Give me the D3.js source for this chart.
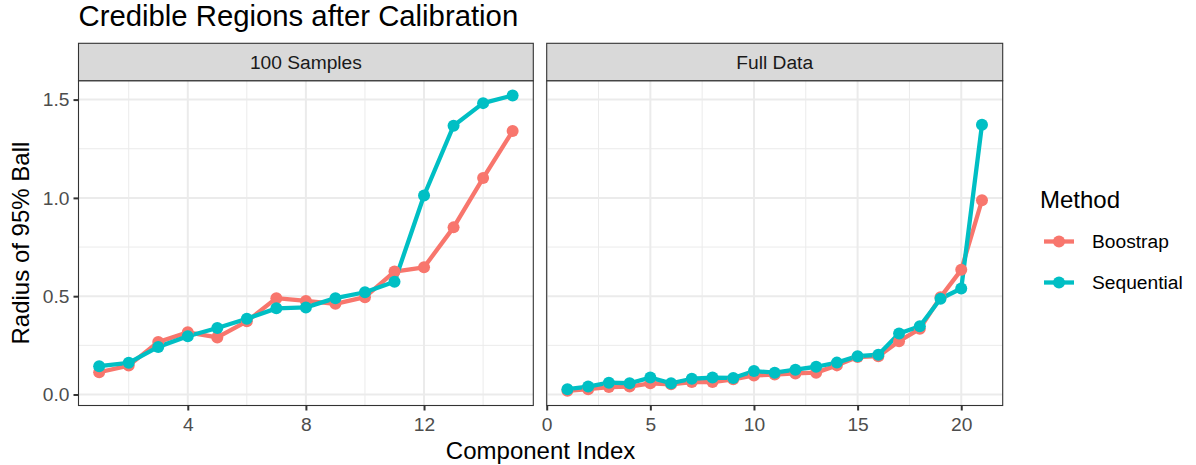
<!DOCTYPE html>
<html>
<head>
<meta charset="utf-8">
<script src="https://cdn.jsdelivr.net/npm/d3@7"></script>
<style>
  body { margin: 0; background: #fff; }
  svg { font-family: "Liberation Sans", Arial, sans-serif; }
</style>
</head>
<body>
<div id="chart"></div>
<script>
var WIDTH = 1196;
var HEIGHT = 465;

var methods = ["Boostrap", "Sequential"];
var methodColors = ["#F8766D", "#00BFC4"];
var panels = ["100 Samples", "Full Data"];

// 100 Samples panel, components 1..15
var samplesIndex = [1, 2, 3, 4, 5, 6, 7, 8, 9, 10, 11, 12, 13, 14, 15];
var samplesBoostrap = [0.113, 0.147, 0.267, 0.316, 0.290, 0.372, 0.490, 0.476,
  0.461, 0.495, 0.625, 0.647, 0.850, 1.101, 1.340];
var samplesSequential = [0.144, 0.161, 0.242, 0.296, 0.338, 0.385, 0.438, 0.443,
  0.490, 0.520, 0.573, 1.012, 1.367, 1.482, 1.521];

// Full Data panel, components 1..21
var fullIndex = [1, 2, 3, 4, 5, 6, 7, 8, 9, 10, 11, 12, 13, 14, 15, 16, 17, 18,
  19, 20, 21];
var fullBoostrap = [0.019, 0.027, 0.038, 0.040, 0.057, 0.052, 0.063, 0.063,
  0.077, 0.097, 0.101, 0.107, 0.111, 0.148, 0.190, 0.195, 0.271, 0.334, 0.495,
  0.634, 0.988];
var fullSequential = [0.027, 0.040, 0.060, 0.057, 0.086, 0.057, 0.080, 0.086,
  0.084, 0.119, 0.111, 0.126, 0.141, 0.162, 0.195, 0.202, 0.310, 0.347, 0.487,
  0.539, 1.372];

var yTicks = [0, 0.5, 1.0, 1.5];
var yMinor = [0.25, 0.75, 1.25];
var samplesTicks = [4, 8, 12];
var samplesMinor = [2, 6, 10, 14];
var fullTicks = [0, 5, 10, 15, 20];
var fullMinor = [2.5, 7.5, 12.5, 17.5];

var STRIP_TOP = 43.3;
var PANEL_TOP = 80.7;
var PANEL_BOTTOM = 405.5;
var GRID = "#EBEBEB";
var DARK = "#333333";
var TEXT = "#4D4D4D";
var BASE_FONT = 24;
var SMALL_FONT = 19.2;

var svg = d3.select("#chart").append("svg")
  .attr("width", WIDTH)
  .attr("height", HEIGHT);

// shared y scale with ggplot style 5% expansion
var allY = samplesBoostrap.concat(samplesSequential, fullBoostrap, fullSequential);
var yLo = d3.min(allY);
var yHi = d3.max(allY);
var yPad = (yHi - yLo) * 0.05;
var y = d3.scaleLinear()
  .domain([yLo - yPad, yHi + yPad])
  .range([PANEL_BOTTOM, PANEL_TOP]);

function makeSeries(index, values) {
  return index.map(function(d, i) {
    return { x: d, y: values[i] };
  });
}

var panelDefs = [
  {
    name: panels[0], left: 78.5, right: 533.3,
    index: samplesIndex, ticks: samplesTicks, minor: samplesMinor,
    series: [makeSeries(samplesIndex, samplesBoostrap),
      makeSeries(samplesIndex, samplesSequential)]
  },
  {
    name: panels[1], left: 546.7, right: 1002.7,
    index: fullIndex, ticks: fullTicks, minor: fullMinor,
    series: [makeSeries(fullIndex, fullBoostrap),
      makeSeries(fullIndex, fullSequential)]
  }
];

function drawPanel(p) {
  var lo = d3.min(p.index);
  var hi = d3.max(p.index);
  var pad = (hi - lo) * 0.05;
  var x = d3.scaleLinear()
    .domain([lo - pad, hi + pad])
    .range([p.left, p.right]);
  var g = svg.append("g");
  var w = p.right - p.left;

  g.append("rect")
    .attr("x", p.left).attr("y", PANEL_TOP)
    .attr("width", w).attr("height", PANEL_BOTTOM - PANEL_TOP)
    .attr("fill", "#fff");

  // minor then major grid
  g.selectAll(".ym").data(yMinor).enter().append("line")
    .attr("x1", p.left).attr("x2", p.right)
    .attr("y1", function(d) { return y(d); })
    .attr("y2", function(d) { return y(d); })
    .attr("stroke", GRID).attr("stroke-width", 1);
  g.selectAll(".xm").data(p.minor).enter().append("line")
    .attr("y1", PANEL_TOP).attr("y2", PANEL_BOTTOM)
    .attr("x1", function(d) { return x(d); })
    .attr("x2", function(d) { return x(d); })
    .attr("stroke", GRID).attr("stroke-width", 1);
  g.selectAll(".yg").data(yTicks).enter().append("line")
    .attr("x1", p.left).attr("x2", p.right)
    .attr("y1", function(d) { return y(d); })
    .attr("y2", function(d) { return y(d); })
    .attr("stroke", GRID).attr("stroke-width", 2);
  g.selectAll(".xg").data(p.ticks).enter().append("line")
    .attr("y1", PANEL_TOP).attr("y2", PANEL_BOTTOM)
    .attr("x1", function(d) { return x(d); })
    .attr("x2", function(d) { return x(d); })
    .attr("stroke", GRID).attr("stroke-width", 2);

  var line = d3.line()
    .x(function(d) { return x(d.x); })
    .y(function(d) { return y(d.y); });

  p.series.forEach(function(s, i) {
    g.append("path")
      .datum(s)
      .attr("d", line)
      .attr("fill", "none")
      .attr("stroke", methodColors[i])
      .attr("stroke-width", 4.3)
      .attr("stroke-linejoin", "round");
  });
  p.series.forEach(function(s, i) {
    g.selectAll(".pt" + i).data(s).enter().append("circle")
      .attr("cx", function(d) { return x(d.x); })
      .attr("cy", function(d) { return y(d.y); })
      .attr("r", 6)
      .attr("fill", methodColors[i]);
  });

  // panel border
  g.append("rect")
    .attr("x", p.left).attr("y", PANEL_TOP)
    .attr("width", w).attr("height", PANEL_BOTTOM - PANEL_TOP)
    .attr("fill", "none").attr("stroke", DARK).attr("stroke-width", 1.1);

  // strip
  g.append("rect")
    .attr("x", p.left).attr("y", STRIP_TOP)
    .attr("width", w).attr("height", PANEL_TOP - STRIP_TOP)
    .attr("fill", "#D9D9D9").attr("stroke", DARK).attr("stroke-width", 1.1);
  g.append("text")
    .attr("x", p.left + w / 2)
    .attr("y", (STRIP_TOP + PANEL_TOP) / 2)
    .attr("text-anchor", "middle")
    .attr("dominant-baseline", "central")
    .attr("font-size", SMALL_FONT)
    .attr("fill", "#1A1A1A")
    .text(p.name);

  var xAxis = g.append("g")
    .attr("transform", "translate(0," + PANEL_BOTTOM + ")")
    .call(d3.axisBottom(x).tickValues(p.ticks).tickSize(5).tickPadding(7));
  styleAxis(xAxis);
  xAxis.selectAll("text").attr("dy", "0.71em");
}

function styleAxis(ax) {
  ax.select(".domain").remove();
  ax.selectAll(".tick line").attr("stroke", DARK).attr("stroke-width", 2);
  ax.selectAll("text")
    .attr("fill", TEXT)
    .attr("font-size", SMALL_FONT)
    .attr("font-family", "Liberation Sans, Arial, sans-serif");
}

panelDefs.forEach(drawPanel);

var yAxis = svg.append("g")
  .attr("transform", "translate(" + panelDefs[0].left + ",0)")
  .call(d3.axisLeft(y).tickValues(yTicks).tickSize(5).tickPadding(4)
    .tickFormat(d3.format(".1f")));
styleAxis(yAxis);

// titles
svg.append("text")
  .attr("x", 78.5).attr("y", 26)
  .attr("font-size", 29.3)
  .attr("fill", "#000")
  .text("Credible Regions after Calibration");

svg.append("text")
  .attr("x", (panelDefs[0].left + panelDefs[1].right) / 2)
  .attr("y", 459)
  .attr("text-anchor", "middle")
  .attr("font-size", BASE_FONT)
  .attr("fill", "#000")
  .text("Component Index");

svg.append("text")
  .attr("transform", "translate(29," + (PANEL_TOP + PANEL_BOTTOM) / 2 + ") rotate(-90)")
  .attr("text-anchor", "middle")
  .attr("font-size", BASE_FONT)
  .attr("fill", "#000")
  .text("Radius of 95% Ball");

// legend
var legend = svg.append("g").attr("transform", "translate(1040,0)");
legend.append("text")
  .attr("x", 0).attr("y", 208)
  .attr("font-size", BASE_FONT)
  .attr("fill", "#000")
  .text("Method");
methods.forEach(function(m, i) {
  var cy = 241.5 + i * 41;
  legend.append("line")
    .attr("x1", 4).attr("x2", 34)
    .attr("y1", cy).attr("y2", cy)
    .attr("stroke", methodColors[i]).attr("stroke-width", 4.3);
  legend.append("circle")
    .attr("cx", 19).attr("cy", cy).attr("r", 6)
    .attr("fill", methodColors[i]);
  legend.append("text")
    .attr("x", 52).attr("y", cy)
    .attr("dominant-baseline", "central")
    .attr("font-size", SMALL_FONT)
    .attr("fill", "#000")
    .text(m);
});
</script>
</body>
</html>
